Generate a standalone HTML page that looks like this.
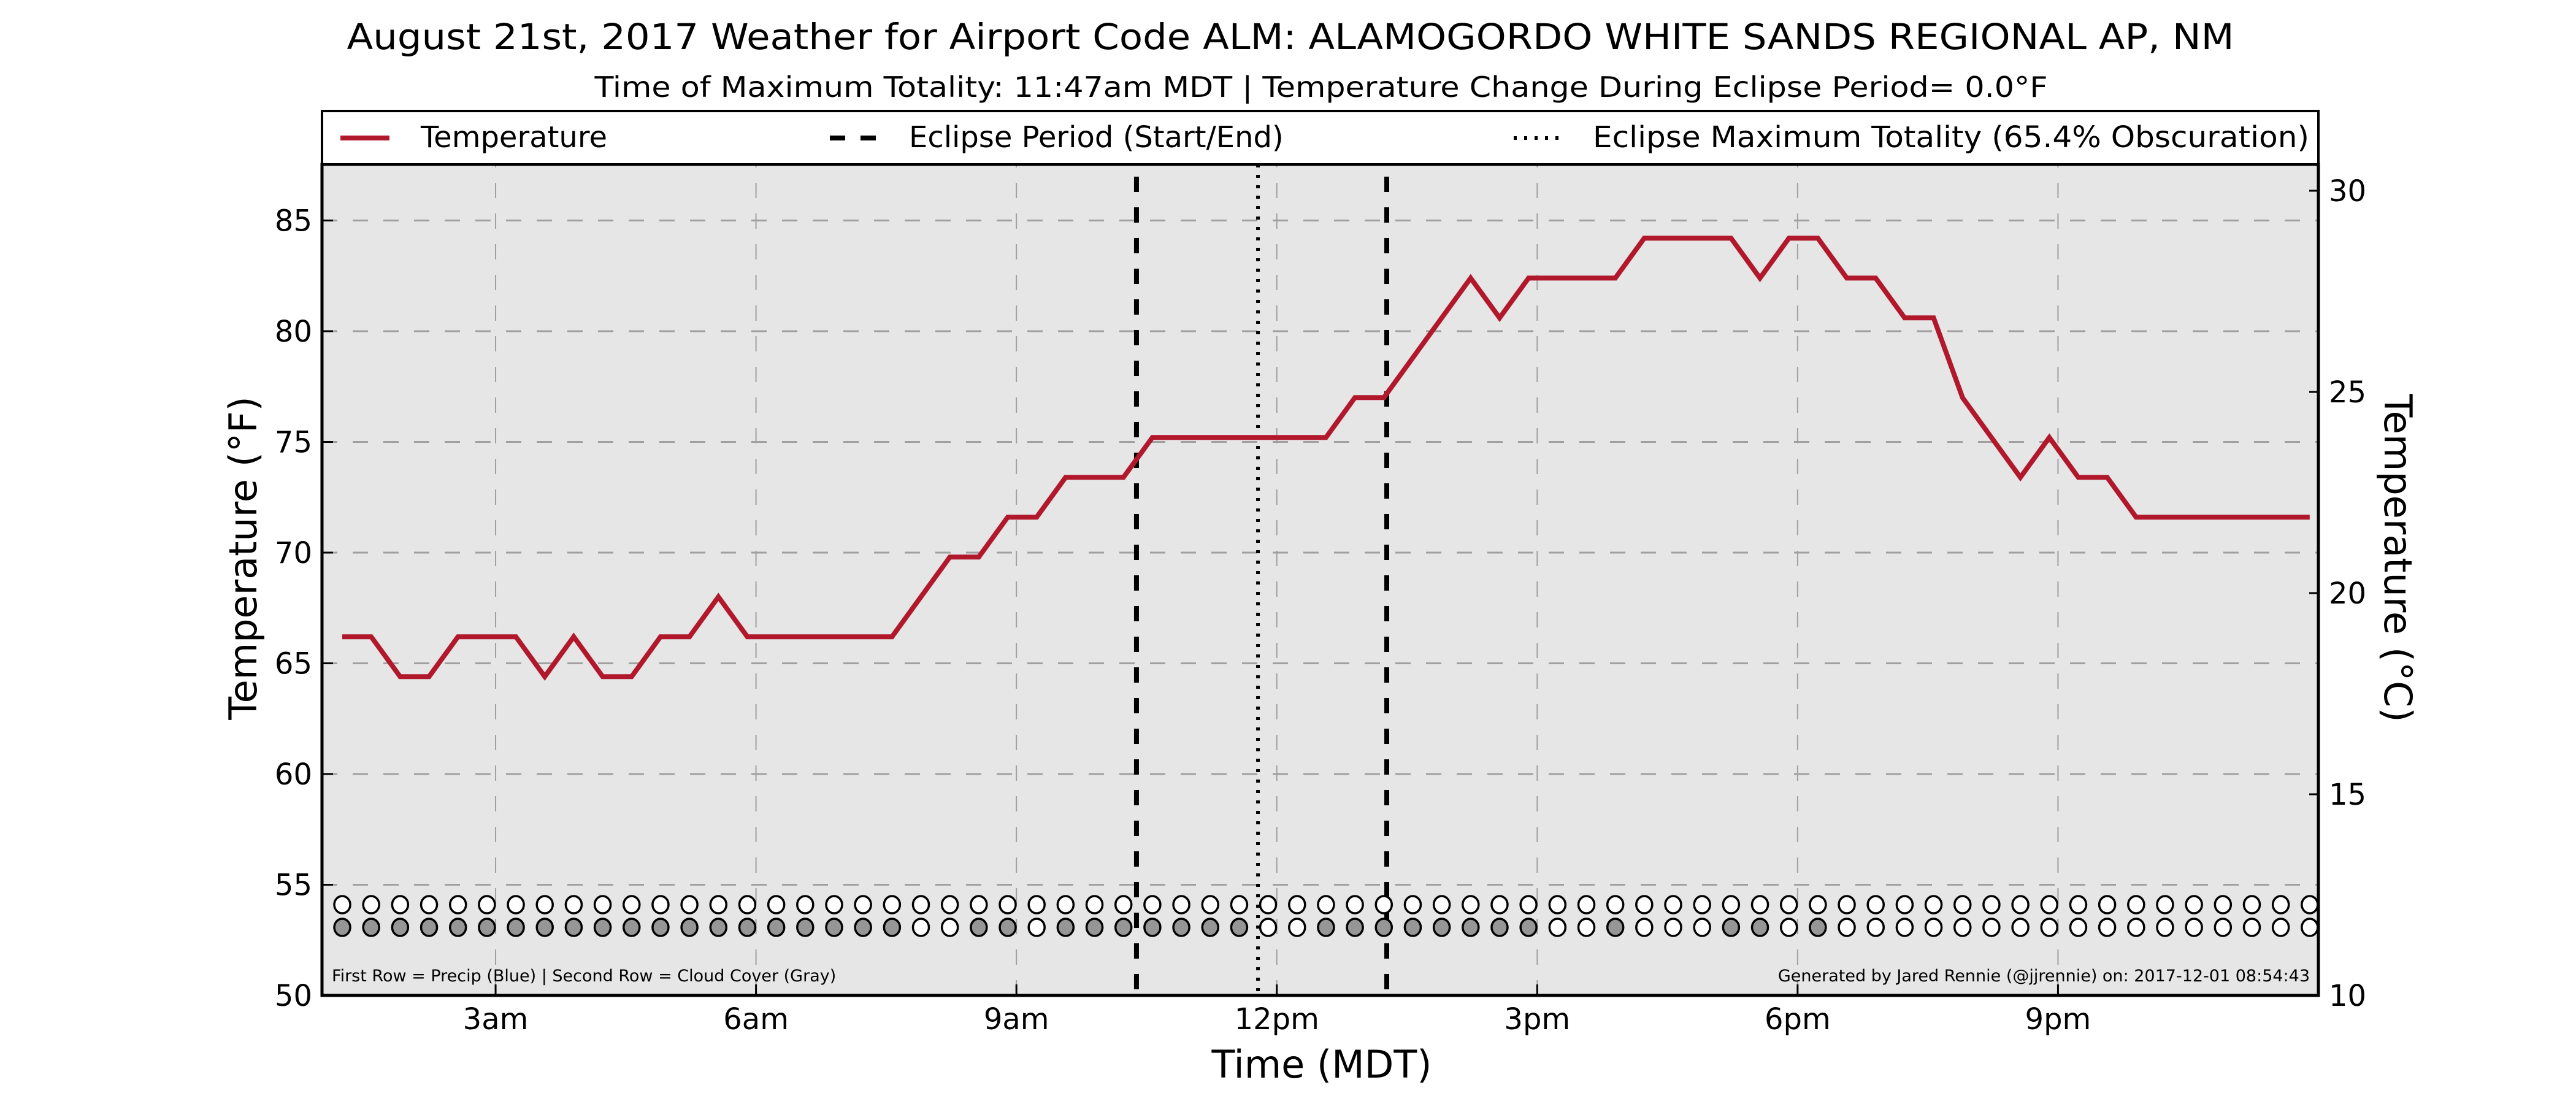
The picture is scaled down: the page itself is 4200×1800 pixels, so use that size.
<!DOCTYPE html>
<html><head><meta charset="utf-8">
<style>
html,body{margin:0;padding:0;background:#fff;}
svg{display:block;font-family:"DejaVu Sans","Liberation Sans",sans-serif;}
</style></head>
<body>
<svg id="chart" width="4200" height="1800" viewBox="0 0 4200 1800" xmlns="http://www.w3.org/2000/svg">
  <text x="2104" y="80" font-size="58" text-anchor="middle" textLength="3077" lengthAdjust="spacingAndGlyphs">August 21st, 2017 Weather for Airport Code ALM: ALAMOGORDO WHITE SANDS REGIONAL AP, NM</text>
  <text x="2154" y="158" font-size="46" text-anchor="middle" textLength="2369" lengthAdjust="spacingAndGlyphs">Time of Maximum Totality: 11:47am MDT | Temperature Change During Eclipse Period= 0.0°F</text>
  <rect x="525" y="268" width="3255" height="1355" fill="#e6e6e6"/>
  <g id="grid"></g>
  <g id="marks"></g>
  <rect x="525" y="268" width="3255" height="1355" fill="none" stroke="#000" stroke-width="5"/>
  <g>
    <rect x="525" y="181" width="3255" height="87" fill="#fff" stroke="#000" stroke-width="4"/>
    <line x1="555" y1="225" x2="635" y2="225" stroke="#B2182B" stroke-width="8"/>
    <text x="686" y="240" font-size="48">Temperature</text>
    <line x1="1353" y1="225" x2="1430" y2="225" stroke="#000" stroke-width="8" stroke-dasharray="25,25"/>
    <text x="1482" y="240" font-size="48">Eclipse Period (Start/End)</text>
    <line x1="2468" y1="225" x2="2545" y2="225" stroke="#000" stroke-width="6" stroke-dasharray="5,12"/>
    <text x="2597" y="240" font-size="48" textLength="1168" lengthAdjust="spacingAndGlyphs">Eclipse Maximum Totality (65.4% Obscuration)</text>
  </g>
  <g id="axes"></g>
  <text x="541" y="1600" font-size="27">First Row = Precip (Blue) | Second Row = Cloud Cover (Gray)</text>
  <text x="3766" y="1600" font-size="27" text-anchor="end">Generated by Jared Rennie (@jjrennie) on: 2017-12-01 08:54:43</text>
  <text x="2155" y="1757" font-size="62" text-anchor="middle">Time (MDT)</text>
  <text x="0" y="0" font-size="62" text-anchor="middle" transform="translate(418,910) rotate(-90)">Temperature (°F)</text>
  <text x="0" y="0" font-size="62" text-anchor="middle" transform="translate(3888,910) rotate(90)">Temperature (°C)</text>
</svg>
<script>
// ---- data ----
const obsTimes = ["1:14","1:34","1:54","2:14","2:34","2:54","3:14","3:34","3:54","4:14","4:34","4:54","5:14","5:34","5:54","6:14","6:34","6:54","7:14","7:34","7:54","8:14","8:34","8:54","9:14","9:34","9:54","10:14","10:34","10:54","11:14","11:34","11:54","12:14","12:34","12:54","13:14","13:34","13:54","14:14","14:34","14:54","15:14","15:34","15:54","16:14","16:34","16:54","17:14","17:34","17:54","18:14","18:34","18:54","19:14","19:34","19:54","20:14","20:34","20:54","21:14","21:34","21:54","22:14","22:34","22:54","23:14","23:34","23:54"];
const tempF = [66.2,66.2,64.4,64.4,66.2,66.2,66.2,64.4,66.2,64.4,64.4,66.2,66.2,68,66.2,66.2,66.2,66.2,66.2,66.2,68,69.8,69.8,71.6,71.6,73.4,73.4,73.4,75.2,75.2,75.2,75.2,75.2,75.2,75.2,77,77,78.8,80.6,82.4,80.6,82.4,82.4,82.4,82.4,84.2,84.2,84.2,84.2,82.4,84.2,84.2,82.4,82.4,80.6,80.6,77,75.2,73.4,75.2,73.4,73.4,71.6,71.6,71.6,71.6,71.6,71.6,71.6];
const precip = [0,0,0,0,0,0,0,0,0,0,0,0,0,0,0,0,0,0,0,0,0,0,0,0,0,0,0,0,0,0,0,0,0,0,0,0,0,0,0,0,0,0,0,0,0,0,0,0,0,0,0,0,0,0,0,0,0,0,0,0,0,0,0,0,0,0,0,0,0];
const cloudCover = [1,1,1,1,1,1,1,1,1,1,1,1,1,1,1,1,1,1,1,1,0,0,1,1,0,1,1,1,1,1,1,1,0,0,1,1,1,1,1,1,1,1,0,0,1,0,0,0,1,1,0,1,0,0,0,0,0,0,0,0,0,0,0,0,0,0,0,0,0];
const eclipseTimes = ["10:23","13:16"];
const maxTotalityTime = "11:47";
const xTickHours = [3,6,9,12,15,18,21];
const xTickLabels = ["3am","6am","9am","12pm","3pm","6pm","9pm"];
const yTicksF = [50,55,60,65,70,75,80,85];
const yTicksC = [10,15,20,25,30];

// ---- scales ----
const PL=525, PR=3780, PT=268, PB=1623;
const X0=1, X1=24;
function toHours(s){const p=s.split(":");return +p[0]+ +p[1]/60;}
function xs(h){return PL+(h-X0)/(X1-X0)*(PR-PL);}
function yF(f){return PB-(f-50)*36.1;}
function yC(c){return PB-(c-10)*65.6;}
const NS="http://www.w3.org/2000/svg";
function mk(tag,attrs,parent){const e=document.createElementNS(NS,tag);for(const k in attrs)e.setAttribute(k,attrs[k]);parent.appendChild(e);return e;}
const grid=document.getElementById('grid'), marks=document.getElementById('marks'), axes=document.getElementById('axes');

// gridlines
yTicksF.forEach(v=>{
  const y=yF(v);
  const g=mk('line',{x1:PL,x2:PR,y1:y,y2:y,stroke:'#a0a0a0','stroke-width':3,'stroke-dasharray':'25,25'},grid);
  
  
  const t=mk('line',{x1:PL,x2:PL+18,y1:y,y2:y,stroke:'#000','stroke-width':3},axes);
  
  
  const l=mk('text',{x:509,y:y+17,'font-size':48,'text-anchor':'end'},axes);
  l.textContent=v;
  
  
});
yTicksC.forEach(v=>{
  const y=yC(v);
  const t=mk('line',{x1:PR-15,x2:PR,y1:y,y2:y,stroke:'#000','stroke-width':3},axes);
  
  
  const l=mk('text',{x:3797,y:y+17,'font-size':48},axes);
  l.textContent=v;
  
  
});
xTickHours.forEach((h,i)=>{
  const x=xs(h);
  const g=mk('line',{x1:x,x2:x,y1:PT,y2:PB,stroke:'#a0a0a0','stroke-width':2,'stroke-dasharray':'25,25','stroke-dashoffset':'-30'},grid);
  
  
  const t=mk('line',{x1:x,x2:x,y1:PB-18,y2:PB,stroke:'#000','stroke-width':3},axes);
  
  
  const l=mk('text',{x:x,y:1678,'font-size':48,'text-anchor':'middle'},axes);
  l.textContent=xTickLabels[i];
  
  
});

// eclipse lines
eclipseTimes.forEach(s=>{
  const x=xs(toHours(s));
  const e=mk('line',{x1:x,x2:x,y1:PT,y2:PB,stroke:'#000','stroke-width':8,'stroke-dasharray':'25,25','stroke-dashoffset':'-20'},marks);
  
  
});
{
  const x=xs(toHours(maxTotalityTime));
  const e=mk('line',{x1:x,x2:x,y1:PT,y2:PB,stroke:'#000','stroke-width':6,'stroke-dasharray':'5,12'},marks);
  
  
}

// temperature line
const pts=obsTimes.map((s,i)=>xs(toHours(s)).toFixed(1)+','+yF(tempF[i]).toFixed(1)).join(' ');
const tl=mk('polyline',{points:pts,fill:'none',stroke:'#B2182B','stroke-width':8,'stroke-linejoin':'miter'},marks);



// circles
obsTimes.forEach((s,i)=>{
  const x=xs(toHours(s));
  const p=mk('ellipse',{cx:x,cy:1475,rx:13,ry:14,fill:precip[i]?'#3a7fd0':'#fff',stroke:'#000','stroke-width':3.5},marks);
  
  
  const c=mk('ellipse',{cx:x,cy:1512,rx:13,ry:14,fill:cloudCover[i]?'#969696':'#fff',stroke:'#000','stroke-width':3.5},marks);
  
  
});
</script>
</body></html>
